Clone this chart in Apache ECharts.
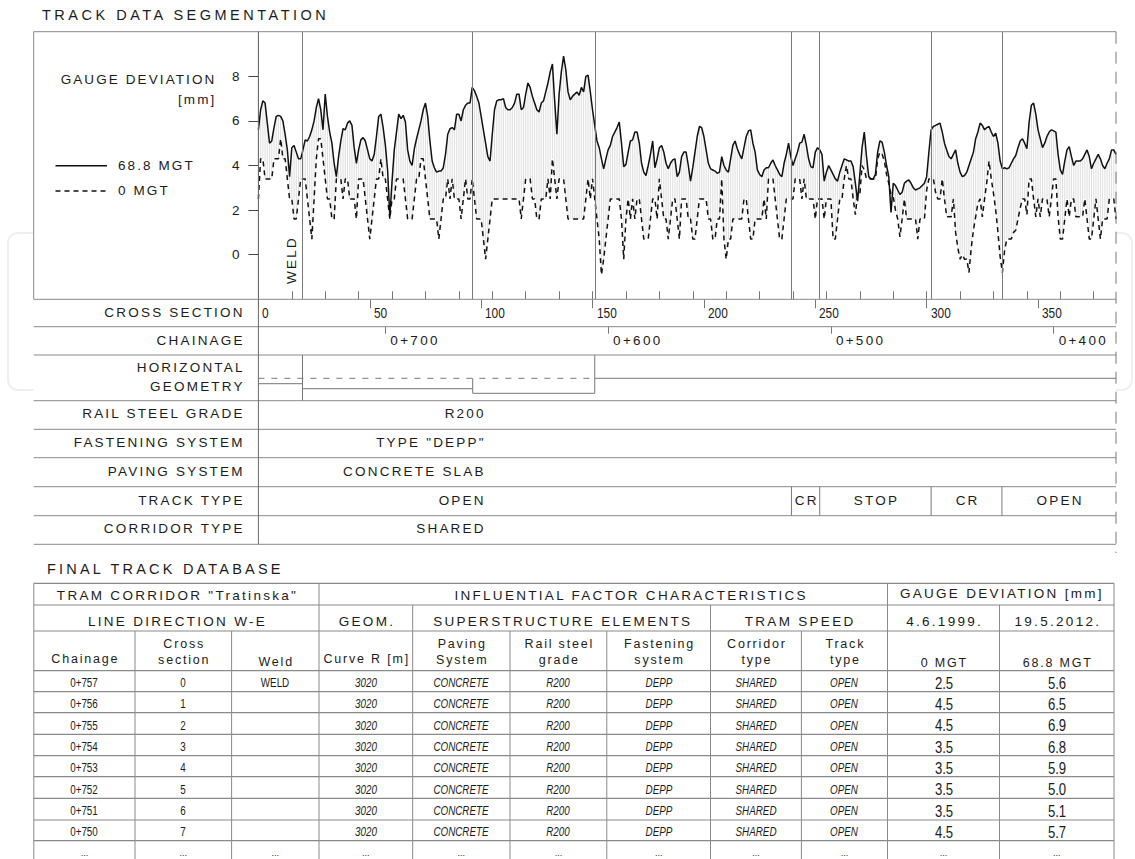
<!DOCTYPE html>
<html>
<head>
<meta charset="utf-8">
<title>Track data segmentation</title>
<script src="https://cdn.jsdelivr.net/npm/echarts@6.0.0/dist/echarts.min.js"></script>
<style>
  html, body { margin: 0; padding: 0; background: #fff; }
  #wrap { position: relative; width: 1135px; height: 859px; overflow: hidden; }
  #chart { position: absolute; left: 0; top: 0; width: 1135px; height: 859px; }
  #labels { position: absolute; left: 0; top: 0; width: 1135px; height: 859px; pointer-events: none;
            font-family: "Liberation Sans", Arial, sans-serif; color: #1c1c1c; }
  #labels div { position: absolute; white-space: nowrap; }
</style>
</head>
<body>
<div id="wrap"><div id="chart"></div><div id="labels"></div></div>
<script>
// gauge deviation [mm] per cross section 0..385, 19.5.2012 (68.8 MGT)
var gauge688 = [
  5.6, 6.5, 6.9, 6.8, 5.9, 5.0, 5.1, 5.7, 6.2, 6.25,
  6.2, 6.0, 5.4, 4.7, 3.5, 4.8, 4.9, 4.6, 4.3, 4.3,
  4.7, 5.15, 5.1, 5.3, 5.6, 6.0, 6.6, 7.0, 6.5, 5.6,
  7.2, 6.2, 5.5, 5.0, 4.1, 3.5, 4.4, 5.1, 5.65, 5.6,
  5.9, 6.0, 5.8, 4.8, 4.1, 4.7, 5.15, 5.25, 5.1, 4.7,
  4.3, 4.2, 4.5, 5.3, 6.2, 6.3, 5.7, 4.9, 3.8, 1.7,
  3.3, 4.7, 5.5, 6.3, 6.1, 6.25, 5.95, 4.7, 4.2, 4.0,
  4.75, 5.2, 5.6, 6.0, 6.5, 6.8, 6.2, 5.1, 4.2, 3.9,
  3.7, 3.75, 3.75, 3.9, 4.5, 5.4, 5.65, 5.7, 5.6, 6.3,
  6.3, 6.0, 6.5, 6.7, 6.8, 6.8, 7.5, 7.35, 7.1, 6.8,
  6.2, 5.6, 5.0, 4.4, 4.2, 5.4, 6.5, 6.9, 6.95, 6.95,
  7.0, 6.6, 6.5, 6.5, 6.6, 6.8, 7.2, 7.2, 6.5, 6.6,
  7.2, 7.7, 7.5, 7.1, 6.8, 6.5, 6.4, 6.8, 6.9, 7.3,
  7.7, 8.2, 8.55, 6.9, 5.4, 7.2, 8.2, 8.9, 8.3, 7.3,
  6.95, 7.1, 7.2, 7.3, 7.15, 7.5, 7.3, 8.0, 8.05, 7.3,
  6.5, 5.8, 5.1, 4.8, 4.3, 3.85, 4.3, 4.7, 4.9, 5.3,
  5.5, 5.7, 5.95, 5.0, 3.95, 4.05, 4.6, 5.1, 5.15, 5.5,
  5.5, 5.0, 4.1, 3.7, 3.55, 4.0, 4.5, 5.1, 3.9, 4.3,
  4.8, 4.9, 4.6, 4.1, 3.85, 4.1, 4.25, 4.3, 3.5, 3.7,
  4.4, 4.6, 4.6, 4.0, 3.3, 3.9, 4.6, 5.3, 5.75, 5.7,
  5.3, 4.7, 4.1, 3.85, 3.8, 3.75, 3.65, 3.7, 4.4, 4.0,
  3.8, 3.7, 4.3, 4.9, 5.1, 4.75, 4.5, 4.3, 4.8, 5.3,
  5.55, 5.6, 5.0, 4.6, 3.8, 3.6, 3.5, 3.8, 3.9, 3.9,
  4.1, 4.25, 4.0, 3.8, 3.6, 3.5, 4.1, 4.5, 5.0, 4.4,
  4.0, 4.3, 4.6, 5.0, 5.05, 5.4, 4.9, 4.3, 3.95, 3.9,
  4.6, 4.8, 4.7, 4.5, 3.3, 3.7, 4.0, 3.8, 3.6, 3.4,
  3.3, 3.7, 4.0, 4.3, 4.25, 4.2, 4.2, 3.95, 3.2, 2.4,
  3.6, 4.8, 5.5, 4.4, 3.5, 3.4, 3.4, 3.6, 4.6, 5.1,
  5.05, 4.6, 4.0, 3.5, 1.9, 3.2, 3.1, 2.9, 2.7, 2.8,
  3.2, 3.3, 3.35, 3.2, 3.0, 2.9, 2.95, 3.0, 3.1, 3.2,
  3.5, 4.6, 5.6, 5.75, 5.8, 5.85, 5.9, 5.5, 5.0, 4.7,
  4.4, 4.3, 4.5, 4.7, 4.1, 3.7, 3.5, 3.55, 3.7, 4.0,
  4.3, 4.6, 5.2, 5.5, 5.9, 5.8, 5.6, 5.7, 5.75, 5.5,
  5.3, 5.45, 5.0, 4.2, 3.85, 3.9, 3.85, 3.9, 4.1, 4.3,
  4.45, 4.8, 5.1, 5.2, 5.0, 4.75, 5.95, 6.7, 6.8, 6.3,
  5.6, 5.2, 4.8, 5.0, 5.3, 5.5, 5.6, 5.55, 5.5, 4.5,
  3.8, 3.6, 4.2, 4.7, 4.85, 4.4, 4.0, 4.2, 4.2, 4.2,
  4.3, 4.5, 4.7, 4.4, 3.85, 4.1, 4.3, 4.5, 4.3, 4.0,
  3.85, 4.1, 4.3, 4.7, 4.7, 4.5
];
// gauge deviation [mm] per cross section 0..385, 4.6.1999 (0 MGT)
var gauge0 = [
  2.5, 4.3, 4.3, 3.4, 3.4, 3.4, 3.4, 4.3, 4.3, 4.3,
  5.2, 4.3, 4.3, 3.4, 2.5, 2.5, 1.6, 1.6, 2.5, 3.4,
  3.4, 3.4, 2.5, 1.6, 0.7, 2.5, 4.3, 5.2, 5.2, 4.3,
  3.4, 2.5, 2.5, 1.6, 1.6, 3.4, 3.4, 3.4, 2.5, 3.4,
  3.4, 2.5, 2.5, 2.5, 1.6, 3.4, 3.4, 3.4, 2.5, 1.6,
  0.7, 1.6, 2.5, 3.4, 3.4, 4.3, 3.4, 3.4, 2.5, 1.6,
  2.5, 2.5, 3.4, 3.4, 3.4, 3.4, 2.5, 1.6, 1.6, 1.6,
  2.5, 3.4, 3.4, 4.3, 4.3, 3.4, 2.5, 1.6, 1.6, 1.6,
  1.6, 0.7, 1.6, 2.5, 2.5, 3.4, 2.5, 3.4, 2.5, 2.5,
  2.5, 1.6, 2.5, 3.4, 2.5, 2.5, 3.4, 2.5, 1.6, 1.6,
  1.6, 0.7, -0.2, 0.7, 1.6, 2.5, 2.5, 2.5, 2.5, 2.5,
  2.5, 2.5, 2.5, 2.5, 2.5, 2.5, 2.5, 2.5, 1.6, 2.5,
  3.4, 3.4, 3.4, 2.5, 2.5, 1.6, 1.6, 2.5, 2.5, 2.5,
  3.4, 2.5, 4.3, 3.4, 2.5, 3.4, 3.4, 3.4, 2.5, 1.6,
  1.6, 1.6, 1.6, 1.6, 1.6, 1.6, 1.6, 2.5, 3.4, 2.5,
  3.4, 2.5, 1.6, 0.7, -0.9, -0.2, 0.7, 1.6, 2.5, 2.5,
  2.5, 2.5, 2.5, 1.6, -0.2, 1.6, 2.5, 1.6, 2.5, 1.6,
  2.5, 2.5, 1.6, 0.7, 0.7, 0.7, 1.6, 2.5, 2.5, 1.6,
  3.4, 2.5, 1.6, 1.6, 0.7, 1.6, 2.5, 2.5, 1.6, 0.7,
  2.5, 2.5, 2.5, 1.6, 1.6, 0.7, 0.7, 1.6, 2.5, 2.5,
  2.5, 2.5, 1.6, 1.6, 0.7, 0.7, 1.6, 1.6, 3.4, 0.7,
  -0.2, 0.7, 0.7, 1.6, 1.6, 1.6, 1.6, 1.6, 2.5, 2.5,
  1.6, 0.7, 0.7, 1.6, 1.6, 1.6, 1.6, 2.5, 1.6, 3.4,
  3.4, 3.4, 2.5, 1.6, 0.7, 0.7, 1.6, 2.5, 2.5, 2.5,
  2.5, 3.4, 3.4, 3.4, 2.5, 3.4, 2.5, 2.5, 2.5, 2.5,
  1.6, 2.5, 2.5, 2.5, 1.6, 2.5, 2.5, 2.5, 0.7, 0.7,
  1.6, 2.5, 2.5, 3.4, 4.0, 3.4, 3.4, 2.5, 1.8, 2.7,
  2.7, 4.0, 3.8, 3.4, 3.4, 3.4, 3.4, 3.4, 4.3, 4.6,
  4.5, 4.2, 3.6, 3.2, 2.7, 2.6, 2.0, 1.6, 0.8, 1.6,
  2.5, 1.6, 1.6, 1.6, 1.6, 1.6, 0.7, 1.6, 1.6, 1.6,
  2.9, 3.4, 3.4, 3.4, 2.8, 2.5, 2.5, 3.4, 2.5, 1.7,
  1.7, 1.7, 2.5, 1.0, 0.3, -0.2, 0.0, -0.2, -0.2, -0.8,
  0.3, 1.1, 1.7, 2.3, 2.5, 1.7, 2.5, 3.25, 4.2, 3.4,
  2.75, 2.0, 1.0, -0.1, -0.8, 0.2, 0.7, 0.7, 0.7, 1.0,
  1.1, 1.6, 2.1, 2.5, 2.5, 1.8, 3.4, 3.4, 2.5, 1.7,
  2.5, 1.7, 2.5, 2.5, 2.5, 1.7, 2.5, 3.4, 3.4, 1.7,
  0.7, 0.7, 1.6, 2.5, 1.7, 2.5, 2.5, 1.7, 1.7, 1.7,
  1.7, 2.5, 1.6, 0.7, 0.7, 1.6, 2.5, 1.6, 0.7, 1.6,
  1.6, 1.6, 2.5, 2.5, 2.5, 1.6
];
var sections = gauge688.map(function (v, i) { return i; });
var xMax = 385;

// segment borders (cross section) and axis ticks
var segmentBounds = [0, 19.8, 96.2, 151, 239.3, 252, 302, 333.8];
var sectionLabels = [0, 50, 100, 150, 200, 250, 300, 350];
var sectionTicks = [0, 15, 30, 45, 60, 75, 90, 105, 120, 135, 150, 165, 180, 195, 210, 225, 240, 255, 270, 285, 300, 315, 330, 345, 360, 375];
var gaugeTicks = [0, 2, 4, 6, 8];
var chainageTicks = [57, 157, 257, 357];
var chainageLabels = ['0+700', '0+600', '0+500', '0+400'];
var geomBreaks = [0, 19.8, 96.2, 151];
var trackBreaks = [239.3, 252, 302, 333.8, 385];
var trackNames = ['CR', 'STOP', 'CR', 'OPEN'];

// final track database
var dbChainage = ['0+757', '0+756', '0+755', '0+754', '0+753', '0+752', '0+751', '0+750'];
var dbSection = [0, 1, 2, 3, 4, 5, 6, 7];
var dbWeld = ['WELD', '', '', '', '', '', '', ''];
var dbCurve = [3020, 3020, 3020, 3020, 3020, 3020, 3020, 3020];
var dbPaving = ['CONCRETE', 'CONCRETE', 'CONCRETE', 'CONCRETE', 'CONCRETE', 'CONCRETE', 'CONCRETE', 'CONCRETE'];
var dbRail = ['R200', 'R200', 'R200', 'R200', 'R200', 'R200', 'R200', 'R200'];
var dbFastening = ['DEPP', 'DEPP', 'DEPP', 'DEPP', 'DEPP', 'DEPP', 'DEPP', 'DEPP'];
var dbCorridor = ['SHARED', 'SHARED', 'SHARED', 'SHARED', 'SHARED', 'SHARED', 'SHARED', 'SHARED'];
var dbTrack = ['OPEN', 'OPEN', 'OPEN', 'OPEN', 'OPEN', 'OPEN', 'OPEN', 'OPEN'];
var db0 = [2.5, 4.5, 4.5, 3.5, 3.5, 3.5, 3.5, 4.5];
var db688 = [5.6, 6.5, 6.9, 6.8, 5.9, 5.0, 5.1, 5.7];

var lay = document.getElementById('labels');

function txt(s, x, y, o) {
  o = o || {};
  var size = o.size || 13.5, ls = o.ls == null ? 2.2 : o.ls, h = Math.round(size * 1.3);
  var d = document.createElement('div');
  d.textContent = s;
  d.style.fontSize = size + 'px';
  d.style.letterSpacing = ls + 'px';
  d.style.lineHeight = h + 'px';
  d.style.top = (y - h / 2) + 'px';
  if (o.italic) d.style.fontStyle = 'italic';
  var a = o.align || 'left';
  if (a === 'left') d.style.left = x + 'px';
  else if (a === 'right') d.style.right = (1135 - x - ls) + 'px';
  else { d.style.left = (x - 150 + ls / 2) + 'px'; d.style.width = '300px'; d.style.textAlign = 'center'; }
  if (o.narrow) {
    d.style.transform = 'scaleX(0.82)';
    d.style.transformOrigin = a === 'left' ? 'left center' : (a === 'right' ? 'right center' : 'center center');
  }
  if (o.rotate) {
    d.style.left = x + 'px'; d.style.top = y + 'px'; d.style.right = 'auto';
    d.style.transform = 'translate(-50%,-50%) rotate(-90deg)';
  }
  lay.appendChild(d);
}

var chart = echarts.init(document.getElementById('chart'), null, {renderer: 'svg'});

var hatch = sections.map(function (s, i) {
  return [s, Math.min(gauge0[i], gauge688[i]), Math.max(gauge0[i], gauge688[i])];
});

var option = {
  animation: false,
  backgroundColor: '#fff',
  grid: {left: 258.4, right: 19, top: 31.7, bottom: 559.7},
  xAxis: [
    {type: 'value', min: 0, max: xMax, position: 'bottom', axisLine: {show: false, onZero: false}, splitLine: {show: false},
      axisTick: {inside: true, length: 8, customValues: sectionTicks, lineStyle: {color: '#777'}},
      axisLabel: {show: false}},
    {type: 'value', min: 0, max: xMax, position: 'bottom', offset: 0, axisLine: {show: false, onZero: false}, splitLine: {show: false},
      axisTick: {length: 9, customValues: sectionLabels, lineStyle: {color: '#777'}},
      axisLabel: {show: false}},
    {type: 'value', min: 0, max: xMax, position: 'bottom', offset: 27.4, axisLine: {show: false, onZero: false}, splitLine: {show: false},
      axisTick: {length: 7, customValues: chainageTicks, lineStyle: {color: '#777'}},
      axisLabel: {show: false}}
  ],
  yAxis: {
    type: 'value', min: -2, max: 10, interval: 2, axisLine: {show: false}, splitLine: {show: false},
    axisTick: {length: 10, customValues: gaugeTicks, lineStyle: {color: '#444'}},
    axisLabel: {customValues: gaugeTicks, margin: 19, fontFamily: '"Liberation Sans", Arial, sans-serif',
      fontSize: 13.5, color: '#1c1c1c'}
  },
  series: [
    {
      type: 'custom', silent: true, z: 1,
      encode: {x: 0, y: [1, 2]},
      data: hatch,
      renderItem: function (params, api) {
        var a = api.coord([api.value(0), api.value(1)]);
        var b = api.coord([api.value(0), api.value(2)]);
        return {type: 'line', shape: {x1: a[0], y1: a[1], x2: b[0], y2: b[1]},
          style: {stroke: '#dadada', lineWidth: 0.9}};
      }
    },
    {
      name: '68.8 MGT', type: 'line', z: 3, symbol: 'none', silent: true,
      data: sections.map(function (s, i) { return [s, gauge688[i]]; }),
      lineStyle: {color: '#111', width: 1.5},
      markLine: {
        silent: true, symbol: ['none', 'none'], label: {show: false},
        lineStyle: {color: '#7a7a7a', width: 1, type: 'solid'},
        data: segmentBounds.map(function (v) { return {xAxis: v}; })
      }
    },
    {
      name: '0 MGT', type: 'line', z: 3, symbol: 'none', silent: true,
      data: sections.map(function (s, i) { return [s, gauge0[i]]; }),
      lineStyle: {color: '#111', width: 1.5, type: [5, 4]}
    }
  ]
};
chart.setOption(option);

function px(v) { return chart.convertToPixel({xAxisIndex: 0}, v); }

var lineCol = '#8a8a8a';
var g = [];
function hl(x1, x2, y, st) {
  g.push({type: 'line', silent: true, z: 10, shape: {x1: x1, y1: y, x2: x2, y2: y},
    style: Object.assign({stroke: lineCol, lineWidth: 1}, st || {})});
}
function vl(x, y1, y2, st) {
  g.push({type: 'line', silent: true, z: 10, shape: {x1: x, y1: y1, x2: x, y2: y2},
    style: Object.assign({stroke: lineCol, lineWidth: 1}, st || {})});
}

// faint background frame behind the figure
g.push({type: 'rect', silent: true, z: 0, shape: {x: 8, y: 233, width: 1124, height: 157, r: 10},
  style: {fill: 'none', stroke: '#efefef', lineWidth: 2}});
g.push({type: 'rect', silent: true, z: 0, shape: {x: 33.7, y: 31.7, width: px(xMax) - 33.7, height: 512.6},
  style: {fill: '#fff'}});

// chart frame and segmentation rows
var xL = 33.7, xR = px(xMax);
var rowLines = [299.3, 326.7, 355, 400.7, 429.3, 457.7, 486.7, 515.7, 544.3];
hl(xL, xR, 31.7);
vl(xL, 31.7, 299.3);
rowLines.forEach(function (y) { hl(xL, xR, y); });
vl(px(0), 31.7, 544.3, {stroke: '#6a6a6a'});
vl(xR, 31.7, 553, {stroke: '#777', lineDash: [12, 8]});

// horizontal geometry
hl(px(geomBreaks[0]), px(geomBreaks[3]), 378.3, {stroke: '#777', lineDash: [6, 7]});
hl(px(geomBreaks[3]), xR, 378.3, {stroke: '#777'});
var geomLevels = [383.7, 388.7, 393.3];
for (var k = 0; k < 3; k++) hl(px(geomBreaks[k]), px(geomBreaks[k + 1]), geomLevels[k], {stroke: '#777'});
vl(px(geomBreaks[1]), 355, 400.7, {stroke: '#777'});
vl(px(geomBreaks[2]), 378.3, 393.3, {stroke: '#777'});
vl(px(geomBreaks[3]), 355, 393.3, {stroke: '#777'});

// track type cells
for (k = 0; k < trackBreaks.length - 1; k++) vl(px(trackBreaks[k]), 486.7, 515.7, {stroke: '#777'});

// legend marks
hl(55.5, 107, 165.7, {stroke: '#111', lineWidth: 1.5});
hl(55.5, 107, 191, {stroke: '#111', lineWidth: 1.5, lineDash: [5, 4]});

// final track database grid
var colX = [33.8, 135, 231.6, 319, 412.7, 510, 606.8, 710.5, 801.4, 887.5, 999.5, 1114];
var rowY = [583.3, 605, 631, 670.7, 691.7, 712.7, 734.3, 755.7, 776.7, 798.3, 820, 840.7];
rowY.forEach(function (y) { hl(colX[0], colX[11], y, {stroke: '#8a8a8a', lineWidth: 1.2}); });
vl(colX[0], rowY[0], 859); vl(colX[11], rowY[0], 859);
[3, 9].forEach(function (c) { vl(colX[c], rowY[0], rowY[1]); });
[3, 4, 7, 9, 10].forEach(function (c) { vl(colX[c], rowY[1], rowY[2]); });
for (k = 1; k < 11; k++) vl(colX[k], rowY[2], 859);

chart.setOption({graphic: {elements: g}});

// ---- texts ----
txt('TRACK DATA SEGMENTATION', 42, 15.5, {size: 14.5, ls: 3.5});
txt('FINAL TRACK DATABASE', 47, 569, {size: 14.5, ls: 3.2});
txt('GAUGE DEVIATION', 214.3, 80, {align: 'right', ls: 2.1});
txt('[mm]', 214.3, 99.5, {align: 'right', ls: 2.1});
txt('68.8 MGT', 118, 166, {ls: 2.1});
txt('0 MGT', 118, 191, {ls: 2.1});
txt('WELD', 292.4, 260, {rotate: true, ls: 2.2});

var rowNames = [['CROSS SECTION', 313.3], ['CHAINAGE', 340.5], ['HORIZONTAL', 367.5], ['GEOMETRY', 386.5],
  ['RAIL STEEL GRADE', 414], ['FASTENING SYSTEM', 443], ['PAVING SYSTEM', 471.5], ['TRACK TYPE', 500.5],
  ['CORRIDOR TYPE', 529]];
rowNames.forEach(function (r) { txt(r[0], 242.5, r[1], {align: 'right'}); });

// cross section and chainage labels placed on the x scale
sectionLabels.forEach(function (v) { txt(String(v), px(v) + 4, 313.3, {ls: 0, size: 14.5, narrow: true}); });
chainageTicks.forEach(function (v, i) { txt(chainageLabels[i], px(v) + 5, 340.5, {ls: 2.3}); });

var segText = [['R200', 414], ['TYPE "DEPP"', 443], ['CONCRETE SLAB', 471.5], ['OPEN', 500.5], ['SHARED', 529]];
segText.forEach(function (r) { txt(r[0], 483.5, r[1], {align: 'right'}); });
for (k = 0; k < trackNames.length; k++) {
  txt(trackNames[k], (px(trackBreaks[k]) + px(trackBreaks[k + 1])) / 2, 500.5, {align: 'center'});
}

// table headers
function mid(a, b) { return (colX[a] + colX[b]) / 2; }
txt('TRAM CORRIDOR "Tratinska"', mid(0, 3), 595.5, {align: 'center', ls: 2.3});
txt('INFLUENTIAL FACTOR CHARACTERISTICS', mid(3, 9), 595.5, {align: 'center', ls: 2.3});
txt('GAUGE DEVIATION [mm]', mid(9, 11), 593.5, {align: 'center', ls: 2.3});
txt('LINE DIRECTION W-E', mid(0, 3), 621.5, {align: 'center', ls: 2.3});
txt('GEOM.', mid(3, 4), 621.5, {align: 'center', ls: 2.3});
txt('SUPERSTRUCTURE ELEMENTS', mid(4, 7), 621.5, {align: 'center', ls: 2.3});
txt('TRAM SPEED', mid(7, 9), 621.5, {align: 'center', ls: 2.3});
txt('4.6.1999.', mid(9, 10), 621.5, {align: 'center', ls: 2.3});
txt('19.5.2012.', mid(10, 11), 621.5, {align: 'center', ls: 2.3});
var h3 = {align: 'center', size: 12.5, ls: 1.8};
var head3 = [['Chainage', '', 659], ['Cross', 'section', 0], ['Weld', '', 662], ['Curve R [m]', '', 659],
  ['Paving', 'System', 0], ['Rail steel', 'grade', 0], ['Fastening', 'system', 0], ['Corridor', 'type', 0],
  ['Track', 'type', 0], ['0 MGT', '', 662.5], ['68.8 MGT', '', 662.5]];
head3.forEach(function (h, c) {
  var x = mid(c, c + 1);
  if (h[1]) { txt(h[0], x, 644, h3); txt(h[1], x, 660, h3); }
  else txt(h[0], x, h[2], h3);
});

// table rows
var dbColumns = [dbChainage, dbSection, dbWeld, dbCurve, dbPaving, dbRail, dbFastening, dbCorridor, dbTrack, db0, db688];
dbColumns.forEach(function (col, c) {
  col.forEach(function (v, r) {
    var y = (rowY[3 + r] + rowY[4 + r]) / 2 + 2;
    var isGauge = c >= 9;
    var s = isGauge ? v.toFixed(1) : String(v);
    if (s === '') return;
    txt(s, mid(c, c + 1), y, {align: 'center', ls: 0, narrow: true, size: isGauge ? 16 : 12,
      italic: c >= 3 && c <= 8});
  });
  txt('...', mid(c, c + 1), 853, {align: 'center', ls: 0, size: 9});
});
</script>
</body>
</html>
